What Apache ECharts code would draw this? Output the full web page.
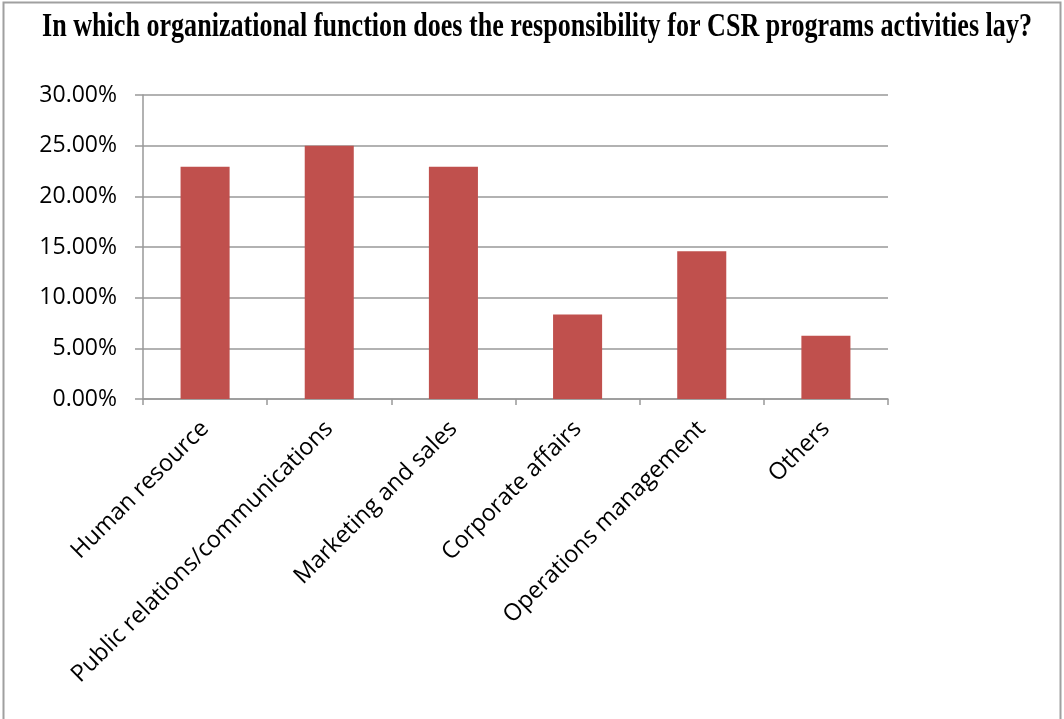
<!DOCTYPE html>
<html>
<head>
<meta charset="utf-8">
<style>
  html, body { margin: 0; padding: 0; background: #fff; }
  #chart { width: 1064px; height: 719px; }
</style>
<script src="https://cdn.jsdelivr.net/npm/echarts@6/dist/echarts.min.js"></script>
</head>
<body>
<div id="chart"></div>
<script>
// Survey: share of respondents by organizational function holding CSR responsibility
const titleText = 'In which organizational function does the responsibility for CSR programs activities lay?';
const categories = [
  'Human resource',
  'Public relations/communications',
  'Marketing and sales',
  'Corporate affairs',
  'Operations management',
  'Others'
];
const shares = [22.92, 25.00, 22.92, 8.33, 14.58, 6.25];
const yTicks = { min: 0, max: 30, interval: 5 };

const titleFamily = '"Liberation Serif", "Times New Roman", serif';
const titleSize = 34;
const titleWidth = 990;

// Condense the serif title horizontally to fit its line
const ctx = document.createElement('canvas').getContext('2d');
ctx.font = 'bold ' + titleSize + 'px ' + titleFamily;
const naturalWidth = ctx.measureText(titleText).width;
const titleScale = titleWidth / naturalWidth;

const chart = echarts.init(document.getElementById('chart'), null, { renderer: 'canvas' });

const gridColor = '#999999';
const labelFont = '"Open Sans", "Noto Sans", sans-serif';

chart.setOption({
  animation: false,
  backgroundColor: '#ffffff',
  grid: { left: 143, right: 176, top: 95, bottom: 320, containLabel: false },
  xAxis: {
    type: 'category',
    data: categories,
    boundaryGap: true,
    axisLine: { show: true, lineStyle: { color: gridColor, width: 1.5 } },
    axisTick: { show: true, length: 6, alignWithLabel: false, lineStyle: { color: gridColor, width: 1.5 } },
    axisLabel: {
      interval: 0,
      rotate: 45,
      margin: 26,
      color: '#000',
      fontFamily: labelFont,
      fontSize: 23.5
    },
    splitLine: { show: false }
  },
  yAxis: {
    type: 'value',
    min: yTicks.min,
    max: yTicks.max,
    interval: yTicks.interval,
    axisLine: { show: true, lineStyle: { color: gridColor, width: 1.5 } },
    axisTick: { show: true, length: 8, lineStyle: { color: gridColor, width: 1.5 } },
    axisLabel: {
      margin: 26,
      color: '#000',
      fontFamily: labelFont,
      fontSize: 23,
      formatter: v => v.toFixed(2) + '%'
    },
    splitLine: { show: true, lineStyle: { color: gridColor, width: 1.5 } }
  },
  series: [{
    type: 'bar',
    data: shares,
    barWidth: '39.5%',
    itemStyle: { color: '#C0504D' },
    emphasis: { disabled: true }
  }],
  graphic: [
    {
      type: 'rect',
      shape: { x: 3.5, y: 2.5, width: 1057, height: 740 },
      style: { fill: 'none', stroke: '#a0a0a0', lineWidth: 2 },
      silent: true,
      z: 100
    },
    {
      type: 'text',
      x: 42,
      y: 44,
      scaleX: titleScale,
      style: {
        text: titleText,
        fontFamily: titleFamily,
        fontWeight: 'bold',
        fontSize: titleSize,
        fill: '#000',
        align: 'left',
        verticalAlign: 'bottom'
      },
      silent: true,
      z: 100
    }
  ]
});
</script>
</body>
</html>
